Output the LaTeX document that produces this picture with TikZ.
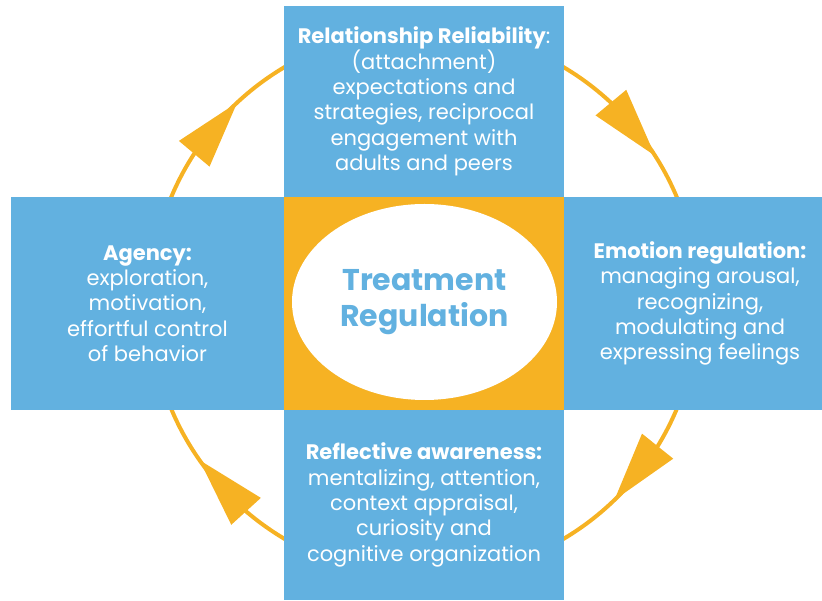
\documentclass[tikz,border=0pt]{standalone}
\usepackage{fontspec}
\setmainfont{Poppins}
\usetikzlibrary{calc,shapes.geometric}
\definecolor{boxblue}{HTML}{62B1E0}
\definecolor{ringorange}{HTML}{F6B223}
\tikzstyle{panel}=[fill=boxblue,text=white,align=center,inner sep=0pt,font=\fontsize{21}{25.3}\selectfont]
\tikzstyle{ring}=[draw=ringorange,line width=4pt]
\tikzstyle{arrowtip}=[fill=ringorange]
\tikzstyle{hub}=[ellipse,fill=white,text=boxblue,align=center,inner sep=0pt,font=\bfseries\fontsize{30}{36}\selectfont]

\begin{document}
\begin{tikzpicture}[x=1pt,y=1pt]
    \useasboundingbox (0,0) rectangle (822,600);
    \coordinate (c) at (424,297);
    % ring with four arrow heads
    \draw[ring] (c) circle (274pt);
    \foreach \b/\t in {147/133,47/32.5,-31.5/-46,229.5/215} {
        \coordinate (tip) at ($(c)+(\t:274pt)$);
        \coordinate (base) at ($(c)+(\b:274pt)$);
        \fill[arrowtip] (tip) -- ($(base)!20pt!90:(tip)$) -- ($(base)!20pt!-90:(tip)$) -- cycle;
    }
    % the four panels
    \node[panel,minimum width=280pt,minimum height=191pt] (rel) at (424,498.5)
        {\textbf{Relationship Reliability}:\\(attachment)\\expectations and\\strategies, reciprocal\\engagement with\\adults and peers};
    \node[panel,minimum width=273pt,minimum height=213pt] (agency) at (147.5,296.5)
        {\textbf{Agency:}\\exploration,\\motivation,\\effortful control\\of behavior};
    \node[panel,minimum width=272pt,minimum height=213pt] (emotion) at (700,296.5)
        {\textbf{Emotion regulation:}\\managing arousal,\\recognizing,\\modulating and\\expressing feelings};
    \node[panel,minimum width=280pt,minimum height=190pt] (reflect) at (424,95)
        {\textbf{Reflective awareness:}\\mentalizing, attention,\\context appraisal,\\curiosity and\\cognitive organization};
    % centre
    \node[fill=ringorange,minimum width=280pt,minimum height=213pt,inner sep=0pt] (core) at (424,296.5) {};
    \node[hub,minimum width=265pt,minimum height=196pt] (treat) at (424.5,298) {Treatment\\Regulation};
\end{tikzpicture}
\end{document}
